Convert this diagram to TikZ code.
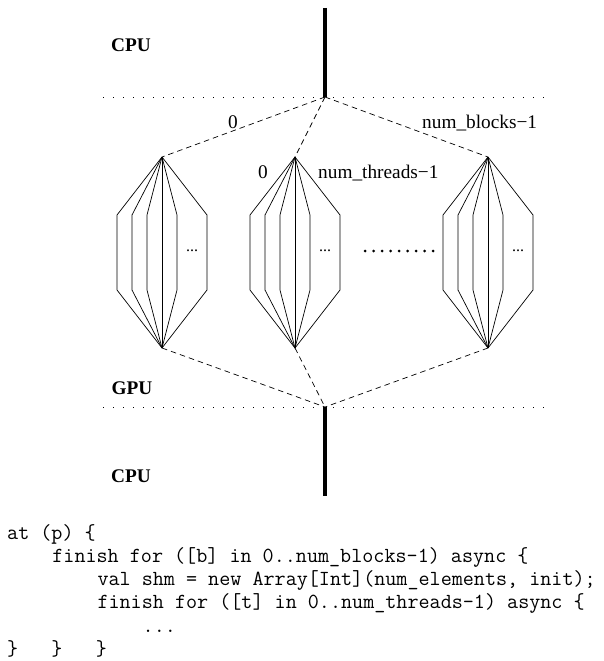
\documentclass[tikz,border=0pt]{standalone}
\usepackage{fontspec}
\setmainfont{Liberation Serif}
\begin{document}
\begin{tikzpicture}[x=1pt,y=-1pt,
  thread/.style={draw=black,line width=0.7pt},
  conn/.style={draw=black,line width=0.7pt,dash pattern=on 5.5pt off 4pt},
  sep/.style={draw=black,line width=0.9pt,dash pattern=on 0.9pt off 9.1pt},
  thick/.style={draw=black,line width=4pt},
  lbl/.style={inner sep=0pt,font=\fontsize{19.3}{22}\selectfont},
  zone/.style={inner sep=0pt,font=\fontsize{19.3}{22}\selectfont\bfseries},
  dotsl/.style={inner sep=0pt,font=\fontsize{16}{18}\selectfont},
  code/.style={inner sep=0pt,anchor=base west,font=\fontsize{21.5}{23.3}\selectfont\ttfamily}]
\useasboundingbox (0,0) rectangle (604,661);
% junctions
\coordinate (cputop) at (325,8);
\coordinate (jtop) at (325,97);
\coordinate (jbot) at (325,407);
\coordinate (cpubot) at (325,496);
\coordinate (sepL1) at (103,97);
\coordinate (sepR1) at (548,97);
\coordinate (sepL2) at (103,407);
\coordinate (sepR2) at (548,407);
\draw[thick] (cputop) -- (jtop);
\draw[thick] (jbot) -- (cpubot);
\draw[sep] (sepL1) -- (sepR1);
\draw[sep] (sepL2) -- (sepR2);
% zone labels
\node[zone] (cpu1) at (131,45) {CPU};
\node[zone] (gpu) at (132,388) {GPU};
\node[zone] (cpu2) at (131,476) {CPU};
% clusters
\foreach \n/\cx in {a/162,b/295,c/488} {
  \coordinate (\n top) at (\cx,157);
  \coordinate (\n bot) at (\cx,348);
  \foreach \o in {-45,-30,-15,15,45}
    \draw[thread] (\n top) -- ++(\o,58) -- ++(0,75) -- (\n bot);
  \draw[thread] (\n top) -- (\n bot);
  \node[dotsl] (\n dots) at (\cx+30,251) {...};
  \draw[conn] (jtop) -- (\n top);
  \draw[conn] (\n bot) -- (jbot);
}
% middle dots
\foreach \i in {0,...,8} \fill (365+\i*8.5,251) circle (1.5pt);
% labels
\node[lbl,anchor=base] (l0a) at (233,128) {0};
\node[lbl,anchor=base west] (lnb) at (422,128) {num\_blocks−1};
\node[lbl,anchor=base] (l0b) at (263,178) {0};
\node[lbl,anchor=base west] (lnt) at (318,178) {num\_threads−1};
% code
\node[code] (c1) at (7,539) {at (p) \{};
\node[code] (c2) at (7+4*11.29,562.3) {finish for ([b] in 0..num\_blocks-1) async \{};
\node[code] (c3) at (7+8*11.29,585.6) {val shm = new Array[Int](num\_elements, init);};
\node[code] (c4) at (7+8*11.29,608.9) {finish for ([t] in 0..num\_threads-1) async \{};
\node[code] (c5) at (7+12*11.29,632.2) {...};
\node[code] (c6) at (7,655.5) {\}\ \ \ \}\ \ \ \}};
\end{tikzpicture}
\end{document}
